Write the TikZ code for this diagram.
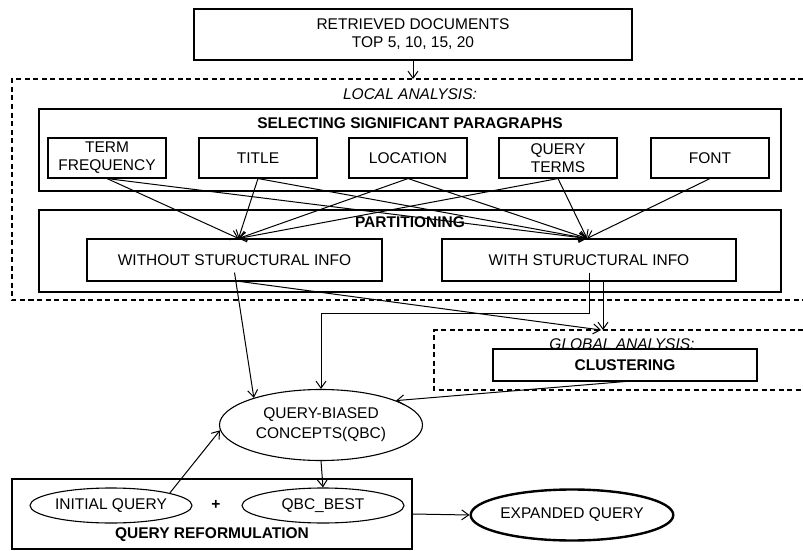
\documentclass[tikz,border=0pt]{standalone}
\usepackage{fontspec}
\setmainfont{Liberation Sans}
\usetikzlibrary{arrows.meta,shapes.geometric}
\begin{document}
\begin{tikzpicture}[x=1pt,y=-1pt,
  every node/.style={font=\fontsize{15.5}{18}\selectfont, align=center, inner sep=0pt},
  box/.style={draw, line width=1.1pt, rectangle},
  oval/.style={draw, line width=1.1pt, ellipse},
  frame/.style={draw, line width=1.1pt, dash pattern=on 5pt off 3.5pt},
  arr/.style={draw, line width=1pt, -{Straight Barb[length=7pt,width=10pt,line width=1pt]}},
  ttl/.style={font=\fontsize{15.5}{18}\selectfont\bfseries},
  itl/.style={font=\fontsize{15.5}{18}\selectfont\itshape}]
\useasboundingbox (0,0) rectangle (803,551);
\fill[white] (0,0) rectangle (803,551);

% top box
\node[box, minimum width=438pt, minimum height=51pt] (top) at (413,34.5) {RETRIEVED DOCUMENTS\\TOP 5, 10, 15, 20};

% local analysis frame
\draw[frame] (803,79) -- (12,79) -- (12,300) -- (803,300);
\coordinate (lin) at (413,79);
\node[itl] (local) at (410,94) {LOCAL ANALYSIS:};

% selecting box
\node[box, minimum width=742pt, minimum height=82pt] (sel) at (410,150) {};
\node[ttl] (selt) at (410,123) {SELECTING SIGNIFICANT PARAGRAPHS};
\node[box, minimum width=118pt, minimum height=40pt] (tf) at (107,158) {TERM\\FREQUENCY};
\node[box, minimum width=118pt, minimum height=40pt] (ti) at (258,158) {TITLE};
\node[box, minimum width=118pt, minimum height=40pt] (lo) at (408,158) {LOCATION};
\node[box, minimum width=118pt, minimum height=40pt] (qt) at (558,158) {QUERY\\TERMS};
\node[box, minimum width=118pt, minimum height=40pt] (fo) at (710,158) {FONT};

% partitioning box
\node[box, minimum width=742pt, minimum height=82pt] (par) at (410,251) {};
\node[ttl] (part) at (410,222) {PARTITIONING};
\node[box, minimum width=295pt, minimum height=42pt] (wo) at (234.5,260) {WITHOUT STURUCTURAL INFO};
\node[box, minimum width=294pt, minimum height=42pt] (wi) at (589,260) {WITH STURUCTURAL INFO};

% global analysis frame
\draw[frame] (803,330) -- (434,330) -- (434,390) -- (803,390);
\coordinate (gin) at (601,330);
\node[itl] (glob) at (622,344) {GLOBAL ANALYSIS:};
\node[box, minimum width=264pt, minimum height=32pt] (clus) at (625,365) {\bfseries CLUSTERING};

% QBC
\node[oval, minimum width=203pt, minimum height=71pt] (qbc) at (321,425) {QUERY-BIASED\\[2pt]CONCEPTS(QBC)};

% query reformulation
\node[box, minimum width=400pt, minimum height=70pt] (qr) at (212,514) {};
\node[oval, minimum width=162pt, minimum height=35pt] (init) at (111,505.5) {INITIAL QUERY};
\node[ttl] (plus) at (216,505) {+};
\node[oval, minimum width=162pt, minimum height=35pt] (best) at (323,505.5) {QBC\_BEST};
\node[ttl] (qrt) at (212,535) {QUERY REFORMULATION};
\node[draw, line width=2.4pt, ellipse, minimum width=200pt, minimum height=51pt] (exp) at (572,515) {EXPANDED QUERY};

% connectors
\draw[arr] (top.south) -- (lin);
\foreach \s in {tf,ti,lo,qt} \draw[arr] (\s.south) -- ([xshift=4pt]wo.north);
\foreach \s in {tf,ti,lo,qt,fo} \draw[arr] (\s.south) -- ([xshift=-2pt]wi.north);
\draw[arr] ([yshift=9pt]wo.south) -- (qbc.158);
\draw[arr] ([xshift=6pt]wo.south) -- (gin);
\draw[arr] ([yshift=9pt]wi.south) -- ++(0,41) -| (qbc.north);
\draw[arr] ([xshift=14pt]wi.south) -- ([xshift=2pt]gin);
\draw[arr] (clus.south) -- (qbc.18);
\draw[arr] (qbc.south) -- (best.north);
\draw[arr] (init.12) -- (qbc.183);
\draw[arr] (qr.east) -- (exp.west);
\end{tikzpicture}
\end{document}
